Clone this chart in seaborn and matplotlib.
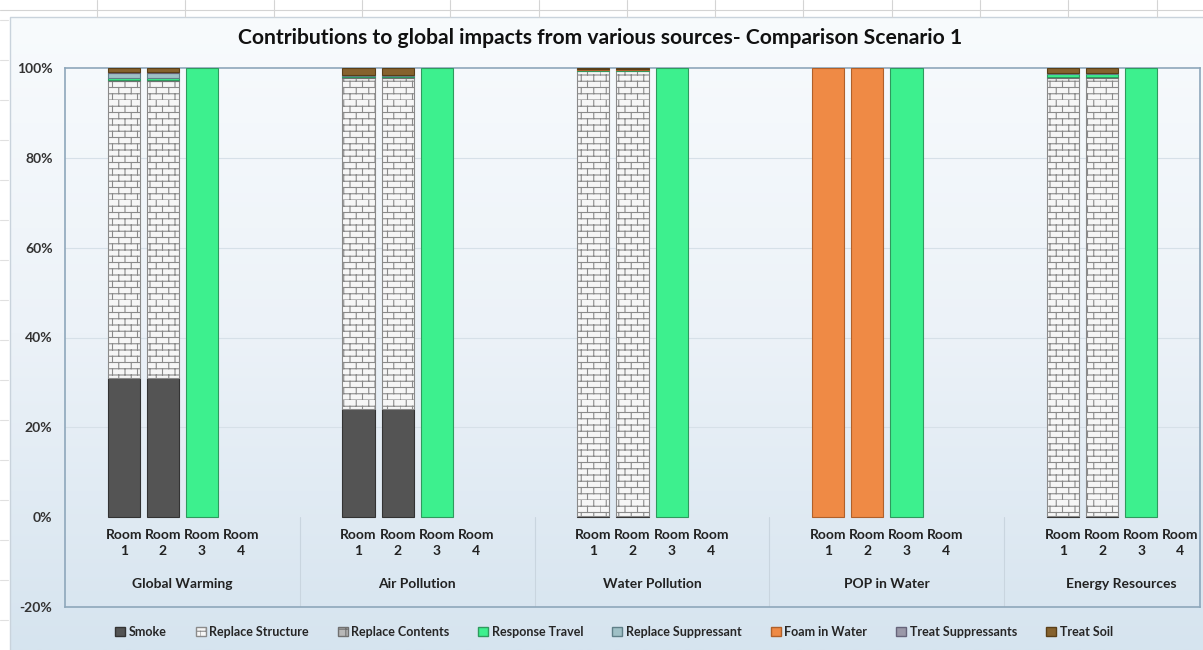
import warnings
import numpy as np
import pandas as pd
import matplotlib
matplotlib.use("Agg")
import matplotlib.pyplot as plt
import matplotlib.hatch as mhatch
from matplotlib.path import Path
from matplotlib.patches import Patch
import seaborn as sns

warnings.filterwarnings("ignore")

# ---- data (percent of each bar) ----
groups = ["Global Warming", "Air Pollution", "Water Pollution", "POP in Water", "Energy Resources"]
rooms = ["Room\n1", "Room\n2", "Room\n3", "Room\n4"]
sources = ["Smoke", "Replace Structure", "Replace Contents", "Response Travel",
           "Replace Suppressant", "Foam in Water", "Treat Suppressants", "Treat Soil"]

# 20 bars: group by group, Room 1..4
smoke =               [31, 31, 0, 0,   24, 24, 0, 0,     0.2, 0.2, 0, 0,   0, 0, 0, 0,       0.2, 0.2, 0, 0]
replace_structure =   [66, 66, 0, 0,   73.8, 73.8, 0, 0, 99.2, 99.2, 0, 0, 0, 0, 0, 0,       97.6, 97.6, 0, 0]
replace_contents =    [0.3, 0.3, 0, 0, 0.2, 0.2, 0, 0,   0, 0, 0, 0,       0, 0, 0, 0,       0.3, 0.3, 0, 0]
response_travel =     [0.5, 0.5, 100, 0, 0.3, 0.3, 100, 0, 0.1, 0.1, 100, 0, 0, 0, 100, 0,   0.5, 0.5, 100, 0]
replace_suppressant = [1.1, 1.1, 0, 0, 0.2, 0.2, 0, 0,   0, 0, 0, 0,       0, 0, 0, 0,       0.2, 0.2, 0, 0]
foam_in_water =       [0, 0, 0, 0,     0, 0, 0, 0,       0.3, 0.3, 0, 0,   100, 100, 0, 0,   0, 0, 0, 0]
treat_suppressants =  [0.1, 0.1, 0, 0, 0, 0, 0, 0,       0, 0, 0, 0,       0, 0, 0, 0,       0, 0, 0, 0]
treat_soil =          [1.0, 1.0, 0, 0, 1.5, 1.5, 0, 0,   0.2, 0.2, 0, 0,   0, 0, 0, 0,       1.2, 1.2, 0, 0]

series = [smoke, replace_structure, replace_contents, response_travel,
          replace_suppressant, foam_in_water, treat_suppressants, treat_soil]

yticks = [-20, 0, 20, 40, 60, 80, 100]


# brick pattern for "Replace Structure" (hatch char 'B')
class BrickHatch(mhatch.HatchPatternBase):
    def __init__(self, hatch, density):
        self.rows = 16 if "B" in hatch else 0
        self.cols = 8
        self.num_vertices = self.rows * (2 + 2 * self.cols)

    def set_vertices_and_codes(self, vertices, codes):
        i = 0
        for r in range(self.rows):
            y0 = r / self.rows
            y1 = (r + 1) / self.rows
            vertices[i] = (0, y0)
            vertices[i + 1] = (1, y0)
            codes[i] = Path.MOVETO
            codes[i + 1] = Path.LINETO
            i += 2
            off = 0.5 / self.cols if r % 2 else 0.0
            for c in range(self.cols):
                x = c / self.cols + off
                vertices[i] = (x, y0)
                vertices[i + 1] = (x, y1)
                codes[i] = Path.MOVETO
                codes[i + 1] = Path.LINETO
                i += 2


mhatch._hatch_types.append(BrickHatch)

styles = {
    "Smoke":               dict(color="#545454", edgecolor="#333333", hatch=None),
    "Replace Structure":   dict(color="#f6f6f6", edgecolor="#8a8a8a", hatch="B"),
    "Replace Contents":    dict(color="#b8b8b8", edgecolor="#707070", hatch="++"),
    "Response Travel":     dict(color="#3df08e", edgecolor="#2f9a5e", hatch=None),
    "Replace Suppressant": dict(color="#9fc0c6", edgecolor="#5f7f88", hatch=None),
    "Foam in Water":       dict(color="#ef8a45", edgecolor="#b0602a", hatch=None),
    "Treat Suppressants":  dict(color="#9a98a8", edgecolor="#66647a", hatch=None),
    "Treat Soil":          dict(color="#86622e", edgecolor="#5a3f18", hatch=None),
}

# long table
rows = []
for s, vals in zip(sources, series):
    for k, v in enumerate(vals):
        g, r = divmod(k, 4)
        rows.append({"source": s, "group": groups[g], "room": rooms[r],
                     "slot": 1 + 6 * g + r, "value": v})
df = pd.DataFrame(rows)

sns.set_style("white")
plt.rcParams["font.family"] = ["Lato", "DejaVu Sans"]
plt.rcParams["hatch.linewidth"] = 0.8

fig = plt.figure(figsize=(12.03, 6.5), dpi=100, facecolor="white")

# background: sheet + chart area gradient
bg = fig.add_axes([0, 0, 1, 1], zorder=-10)
bg.set_xlim(0, 1203)
bg.set_ylim(650, 0)
bg.axis("off")
grad = np.linspace(0, 1, 256).reshape(-1, 1)
cmap = matplotlib.colors.LinearSegmentedColormap.from_list("bg", ["#f8fbfd", "#ecf2f8", "#d6e4ef"])
bg.imshow(grad, cmap=cmap, extent=(10, 1203, 650, 17), aspect="auto", zorder=0)
bg.plot([10, 10, 1203], [650, 17, 17], color="#c9d3dc", lw=1, zorder=1)
bg.plot([0, 1203], [10, 10], color="#d4d4d4", lw=0.8)
for xv in np.arange(97, 1203, 88.3):
    bg.plot([xv, xv], [0, 17], color="#d4d4d4", lw=0.8)
for yv in np.arange(20, 650, 40):
    bg.plot([0, 8], [yv, yv], color="#e0e0e0", lw=0.8)

ax = fig.add_axes([65 / 1203, 1 - 607 / 650, 1135 / 1203, (607 - 68) / 650])
ax.set_facecolor("none")

bottoms = pd.Series(0.0, index=range(20))
for s in sources:
    sub = df[df["source"] == s].reset_index(drop=True)
    st = styles[s]
    nz = sub["value"] > 0
    ax.bar(sub.loc[nz, "slot"], sub.loc[nz, "value"], bottom=bottoms[nz], width=0.82,
           color=st["color"], edgecolor=st["edgecolor"], hatch=st["hatch"],
           linewidth=0.8, zorder=3)
    bottoms = bottoms + sub["value"]

ax.set_xlim(-0.5, 28.5)
ax.set_ylim(-20, 100)
ax.set_yticks(yticks)
ax.set_yticklabels([f"{t}%" for t in yticks], fontsize=10, fontweight="bold", color="#333333")
ax.tick_params(axis="y", length=0, pad=9)
ax.set_xticks([])
for t in [20, 40, 60, 80]:
    ax.axhline(t, color="#d6e0e8", lw=0.8, zorder=1)

for sp in ax.spines.values():
    sp.set_color("#8ea7bb")
    sp.set_linewidth(1.2)

# category axis labels below zero
for slot, room in zip(df["slot"].unique(), rooms * len(groups)):
    ax.text(slot, -2.6, room, ha="center", va="top", fontsize=10, fontweight="bold",
            color="#222222", linespacing=1.45)
for g, name in enumerate(groups):
    ax.text(2.5 + 6 * g, -14.9, name, ha="center", va="center", fontsize=10,
            fontweight="bold", color="#222222", clip_on=False)
for b in [5.5, 11.5, 17.5, 23.5]:
    ax.plot([b, b], [0, -20], color="#c9d5df", lw=0.8)

fig.text(600 / 1203, 1 - 38 / 650, "Contributions to global impacts from various sources- Comparison Scenario 1",
         ha="center", va="center", fontsize=15.2, fontweight="bold", color="#111111")

handles = [Patch(facecolor=styles[s]["color"], edgecolor=styles[s]["edgecolor"],
                 hatch=styles[s]["hatch"], label=s) for s in sources]
fig.legend(handles=handles, loc="center", bbox_to_anchor=(614 / 1203, 1 - 632 / 650),
           ncol=8, frameon=False, prop={"size": 9, "weight": "bold"},
           handlelength=0.8, handleheight=0.8, handletextpad=0.3, columnspacing=2.3)

fig.savefig("out.png", dpi=100)
